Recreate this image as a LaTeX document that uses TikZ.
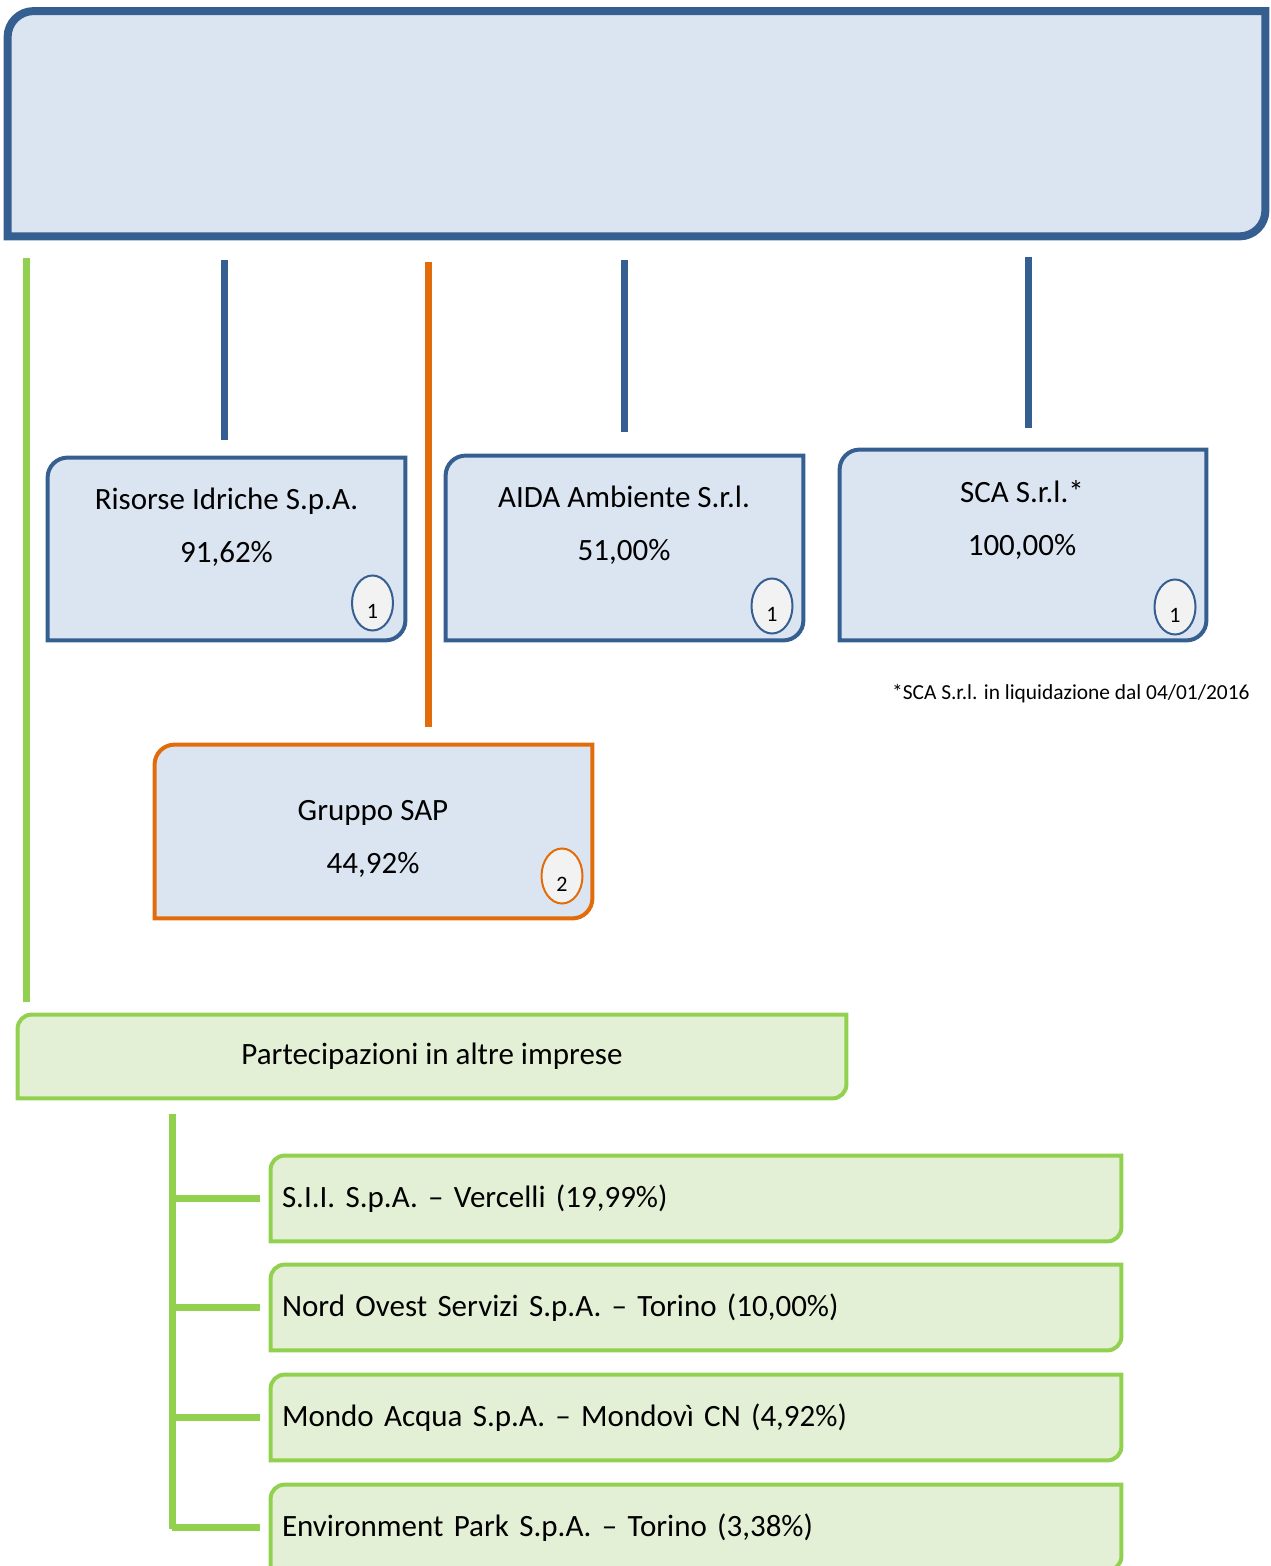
\documentclass[tikz,border=0pt]{standalone}
\usepackage{fontspec}
\setmainfont{Carlito}
\usetikzlibrary{positioning,shapes.geometric,backgrounds}
\definecolor{BluBordo}{RGB}{54,95,145}
\definecolor{BluFondo}{RGB}{219,229,241}
\definecolor{Arancio}{RGB}{227,108,10}
\definecolor{Verde}{RGB}{146,208,80}
\definecolor{VerdeFondo}{RGB}{228,240,213}
\definecolor{Grigio}{RGB}{242,242,242}
\tikzstyle{Riquadro}=[rectangle, inner sep=0pt]
\tikzstyle{Testo}=[align=center, font=\fontsize{15.5}{26.5}\selectfont]
\tikzstyle{TestoVerde}=[rectangle, inner sep=0pt, inner xsep=5.5pt, align=left, minimum height=42.5pt, font=\fontsize{15.5}{18}\selectfont]
\tikzstyle{Nota}=[inner sep=0pt, font=\fontsize{10.7}{12}\selectfont]
\tikzstyle{Numero}=[ellipse, draw=BluBordo, fill=Grigio, line width=1pt, minimum width=20.5pt, minimum height=27.5pt, inner sep=0pt]
\tikzstyle{Cifra}=[inner sep=0pt, yshift=-4pt, font=\fontsize{11}{11}\selectfont]
\tikzstyle{FondoBlu}=[draw=BluBordo, fill=BluFondo, line width=2pt]
\tikzstyle{FondoArancio}=[draw=Arancio, fill=BluFondo, line width=2pt]
\tikzstyle{FondoVerde}=[draw=Verde, fill=VerdeFondo, line width=2pt]
\tikzstyle{LineaBlu}=[draw=BluBordo, line width=3.5pt]
\tikzstyle{LineaArancio}=[draw=Arancio, line width=3.5pt]
\tikzstyle{LineaVerde}=[draw=Verde, line width=3.5pt]
% cornice con due angoli arrotondati (alto sinistra, basso destra)
\newcommand{\Cornice}[3]{\draw[#1] ([yshift=-#3]#2.north west) arc[start angle=180, end angle=90, radius=#3] -- (#2.north east) -- ([yshift=#3]#2.south east) arc[start angle=0, end angle=-90, radius=#3] -- (#2.south west) -- cycle;}

\begin{document}
\begin{tikzpicture}[x=0.5pt, y=-0.5pt]
			\useasboundingbox (0,0) rectangle (1270,1566);

			%Nodi
			\node[Riquadro, minimum width=628.5pt, minimum height=112.25pt]	(capo)	at (636.5,123.75)	{};

			\node[Riquadro, minimum width=178.5pt, minimum height=91pt]	(risorse)	at (226.5,549)	{};
			\node[Testo]	(risorse_txt)	at (226.5,527.5)	{Risorse Idriche S.p.A.\\91,62\%};
			\node[Numero, label={[Cifra]center:1}]	(risorse_num)	at (372.5,603)	{};

			\node[Riquadro, minimum width=178.5pt, minimum height=92pt]	(aida)	at (624.5,548)	{};
			\node[Testo]	(aida_txt)	at (624,525.5)	{AIDA Ambiente S.r.l.\\51,00\%};
			\node[Numero, label={[Cifra]center:1}]	(aida_num)	at (772,606)	{};

			\node[Riquadro, minimum width=183pt, minimum height=95pt]	(sca)	at (1023,545)	{};
			\node[Testo]	(sca_txt)	at (1022,519.5)	{SCA S.r.l.*\\100,00\%};
			\node[Numero, label={[Cifra]center:1}]	(sca_num)	at (1175,607)	{};
			\node[Nota, anchor=east]	(nota)	at (1250,694)	{*SCA S.r.l. in liquidazione dal 04/01/2016};

			\node[Riquadro, minimum width=218.5pt, minimum height=86.5pt]	(sap)	at (373.5,831.5)	{};
			\node[Testo]	(sap_txt)	at (373,838.5)	{Gruppo SAP\\44,92\%};
			\node[Numero, draw=Arancio, label={[Cifra]center:2}]	(sap_num)	at (562,876)	{};

			\node[Riquadro, minimum width=414pt, minimum height=41.5pt, font=\fontsize{15.5}{18}\selectfont]	(altre)	at (432,1056.5)	{Partecipazioni in altre imprese};

			\node[TestoVerde, text width=414pt]	(sii)		at (696,1198.5)	{S.I.I. S.p.A. – Vercelli (19,99\%)};
			\node[TestoVerde, text width=414pt]	(nos)		at (696,1307.5)	{Nord Ovest Servizi S.p.A. – Torino (10,00\%)};
			\node[TestoVerde, text width=414pt]	(mondo)	at (696,1417.5)	{Mondo Acqua S.p.A. – Mondovì CN (4,92\%)};
			\node[TestoVerde, text width=414pt]	(envpark)	at (696,1527.5)	{Environment Park S.p.A. – Torino (3,38\%)};

			%Cornici
			\begin{scope}[on background layer]
				\Cornice{FondoBlu, line width=4pt}{capo}{13pt}
				\Cornice{FondoBlu}{risorse}{10pt}
				\Cornice{FondoBlu}{aida}{10pt}
				\Cornice{FondoBlu}{sca}{10pt}
				\Cornice{FondoArancio}{sap}{10pt}
				\Cornice{FondoVerde}{altre}{7pt}
				\foreach \n in {sii,nos,mondo,envpark}{
					\Cornice{FondoVerde}{\n}{7pt}
				}
			\end{scope}

			%Linee
			\coordinate (risorse_su)	at (224,260);
			\coordinate (risorse_giu)	at (224,440);
			\coordinate (aida_su)		at (624,260);
			\coordinate (aida_giu)		at (624,432);
			\coordinate (sca_su)		at (1028,257);
			\coordinate (sca_giu)		at (1028,428);
			\coordinate (sap_su)		at (428,262);
			\coordinate (sap_giu)		at (428,727);
			\coordinate (altre_su)		at (26,258);
			\coordinate (altre_giu)		at (26,1002);
			\coordinate (albero_su)		at (172,1114);
			\coordinate (albero_giu)	at (172,1529);

			\draw[LineaBlu] (risorse_su) -- (risorse_giu);
			\draw[LineaBlu] (aida_su) -- (aida_giu);
			\draw[LineaBlu] (sca_su) -- (sca_giu);
			\draw[LineaArancio] (sap_su) -- (sap_giu);
			\draw[LineaVerde] (altre_su) -- (altre_giu);
			\draw[LineaVerde] (albero_su) -- (albero_giu);
			\foreach \n in {sii,nos,mondo,envpark}
				\draw[LineaVerde] (albero_su |- \n.west) -- ([xshift=-5.5pt]\n.west);

		\end{tikzpicture}
\end{document}
